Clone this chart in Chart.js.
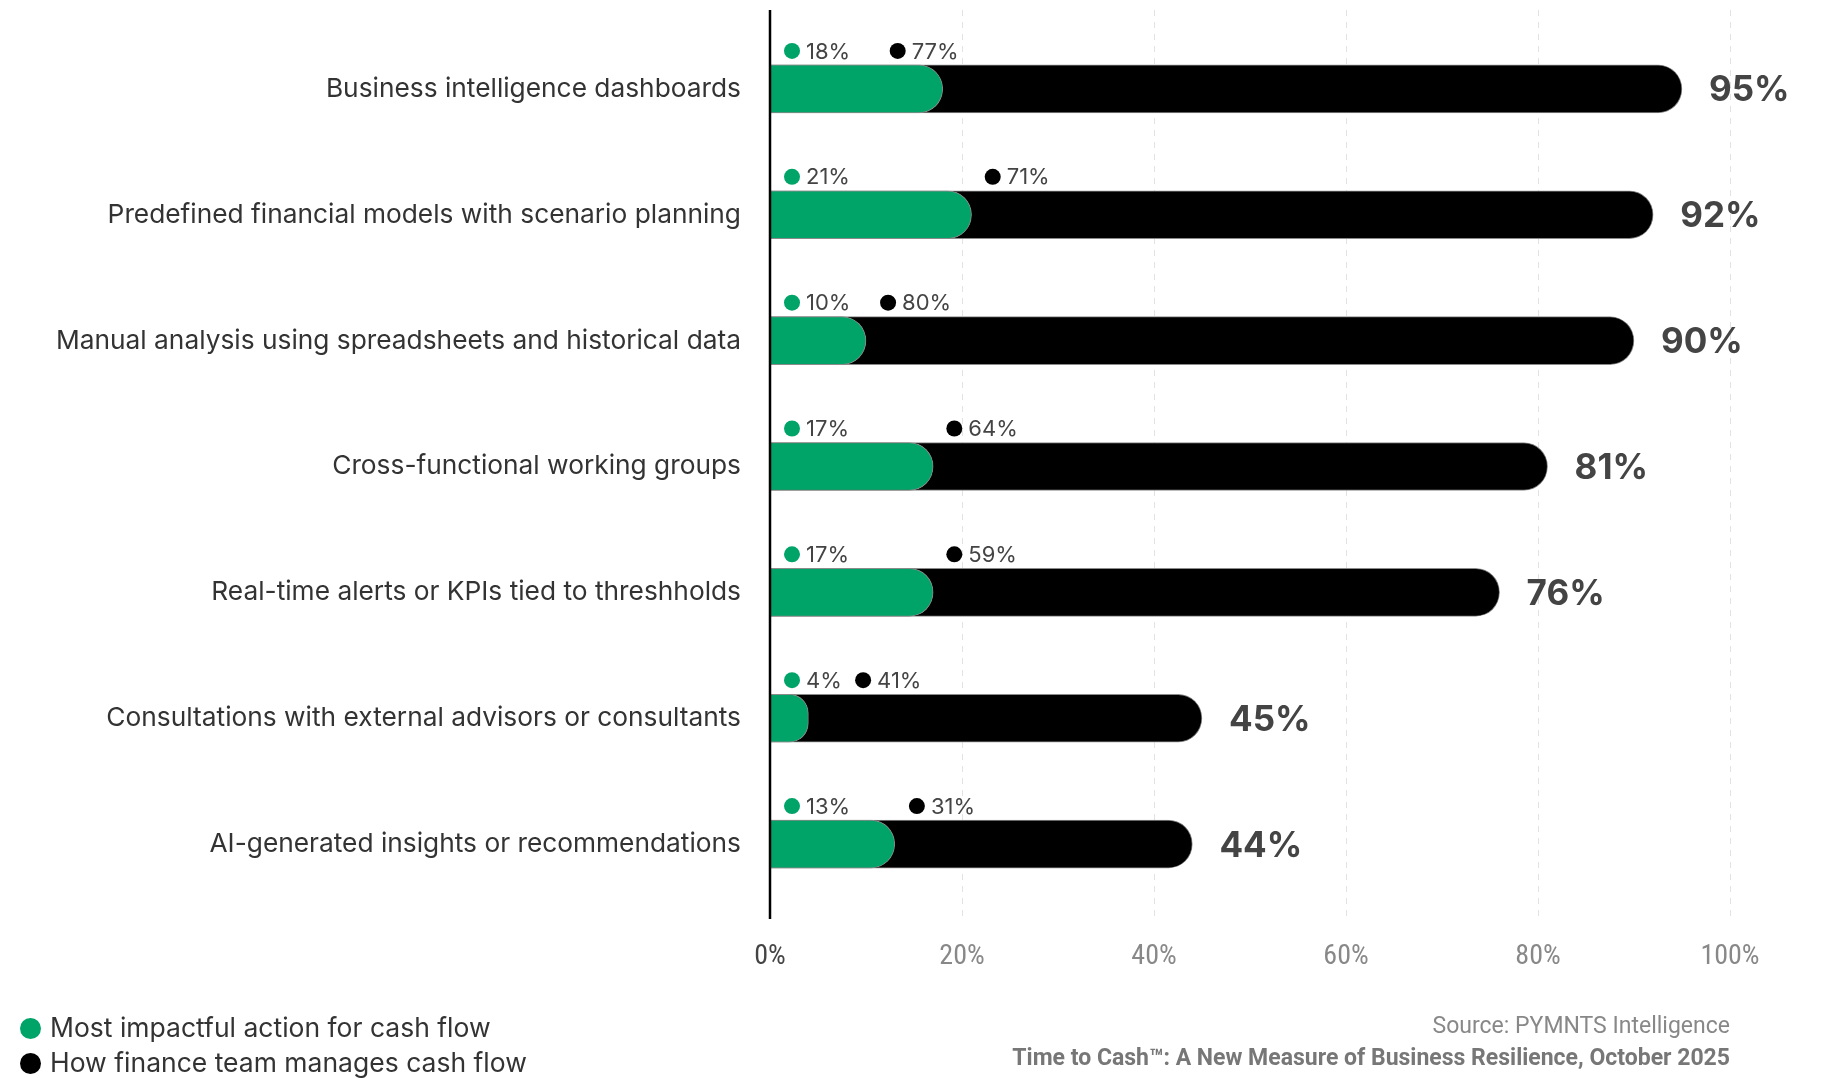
<!DOCTYPE html>
<html>
<head>
<meta charset="utf-8">
<script src="https://cdn.jsdelivr.net/npm/chart.js@4.4.1/dist/chart.umd.min.js"></script>
<style>
  html, body { margin: 0; padding: 0; background: #fff; }
  #wrap { position: relative; width: 1822px; height: 1078px; }
  .legend { position: absolute; left: 20px; font-family: Inter, sans-serif; font-size: 26.5px; color: #333; }
  .legend span.dot { display: inline-block; width: 21px; height: 21px; border-radius: 50%; margin-right: 9px; vertical-align: -2px; }
  .foot { position: absolute; right: 92px; font-family: Roboto, sans-serif; font-size: 23px; color: #888; text-align: right; }
</style>
</head>
<body>
<div id="wrap">
  <canvas id="c" width="1822" height="1078"></canvas>
  <div class="legend" style="top:1011px"><span class="dot" style="background:#01a468"></span>Most impactful action for cash flow</div>
  <div class="legend" style="top:1046px"><span class="dot" style="background:#000"></span>How finance team manages cash flow</div>
  <div class="foot" style="top:1012px">Source: PYMNTS Intelligence</div>
  <div class="foot" style="top:1044px;font-weight:bold;color:#777">Time to Cash™: A New Measure of Business Resilience, October 2025</div>
</div>
<script>
var categories = [
  'Business intelligence dashboards',
  'Predefined financial models with scenario planning',
  'Manual analysis using spreadsheets and historical data',
  'Cross-functional working groups',
  'Real-time alerts or KPIs tied to threshholds',
  'Consultations with external advisors or consultants',
  'AI-generated insights or recommendations'
];
var impactful = [18, 21, 10, 17, 17, 4, 13];
var manages = [77, 71, 80, 64, 59, 41, 31];
// where the black label sits along the axis (in %)
var manageLabelAt = [13.3, 23.2, 12.3, 19.2, 19.2, 9.7, 15.3];
var xTicks = [0, 20, 40, 60, 80, 100];

var totals = impactful.map(function (v, i) { return v + manages[i]; });

var GREEN = '#01a468';
var BLACK = '#000000';

var extras = {
  id: 'extras',
  beforeDatasetsDraw: function (chart) {
    var ctx = chart.ctx;
    var x = chart.scales.x;
    ctx.save();
    ctx.strokeStyle = '#e2e2e2';
    ctx.lineWidth = 1;
    ctx.setLineDash([6, 6]);
    xTicks.forEach(function (t) {
      if (t === 0) return;
      var px = Math.round(x.getPixelForValue(t)) + 0.5;
      ctx.beginPath();
      ctx.moveTo(px, 10);
      ctx.lineTo(px, 919);
      ctx.stroke();
    });
    ctx.restore();
  },
  afterDatasetsDraw: function (chart) {
    var ctx = chart.ctx;
    var x = chart.scales.x;
    var x0 = x.getPixelForValue(0);
    var meta = chart.getDatasetMeta(1);
    ctx.save();
    // axis line
    ctx.strokeStyle = '#000';
    ctx.lineWidth = 2.5;
    ctx.beginPath();
    ctx.moveTo(x0, 10);
    ctx.lineTo(x0, 919);
    ctx.stroke();

    meta.data.forEach(function (bar, i) {
      var ly = bar.y - 24 - 14;
      ctx.font = '22px Inter, sans-serif';
      ctx.textBaseline = 'middle';
      ctx.textAlign = 'left';
      // green label
      var gx = x0 + 22;
      ctx.fillStyle = GREEN;
      ctx.beginPath(); ctx.arc(gx, ly, 8, 0, Math.PI * 2); ctx.fill();
      ctx.fillStyle = '#444';
      ctx.fillText(impactful[i] + '%', gx + 14, ly + 1);
      // black label
      var bx = x.getPixelForValue(manageLabelAt[i]);
      ctx.fillStyle = BLACK;
      ctx.beginPath(); ctx.arc(bx, ly, 8, 0, Math.PI * 2); ctx.fill();
      ctx.fillStyle = '#444';
      ctx.fillText(manages[i] + '%', bx + 14, ly + 1);
      // total
      ctx.font = 'bold 35px Inter, sans-serif';
      ctx.fillStyle = '#444';
      ctx.fillText(totals[i] + '%', x.getPixelForValue(totals[i]) + 27, bar.y + 2);
    });
    ctx.restore();
  }
};

new Chart(document.getElementById('c'), {
  type: 'bar',
  data: {
    labels: categories,
    datasets: [
      {
        label: 'Most impactful action for cash flow',
        data: impactful,
        backgroundColor: GREEN,
        borderColor: '#8a8a8a',
        borderWidth: 1,
        borderSkipped: 'start',
        borderRadius: 24,
        barThickness: 48,
        grouped: false,
        order: 0
      },
      {
        label: 'How finance team manages cash flow',
        data: totals,
        backgroundColor: BLACK,
        borderColor: '#8a8a8a',
        borderWidth: 1,
        borderSkipped: 'start',
        borderRadius: 24,
        barThickness: 48,
        grouped: false,
        order: 1
      }
    ]
  },
  options: {
    indexAxis: 'y',
    responsive: false,
    animation: false,
    layout: { padding: { top: 26, right: 92, left: 0, bottom: 0 } },
    plugins: { legend: { display: false }, tooltip: { enabled: false } },
    scales: {
      x: {
        min: 0, max: 100,
        afterFit: function (s) { s.height = 171; },
        afterBuildTicks: function (s) { s.ticks = xTicks.map(function (v) { return { value: v }; }); },
        grid: { display: false, drawTicks: false },
        border: { display: false },
        ticks: {
          padding: 33,
          font: { family: '"Liberation Sans Narrow", "Roboto Condensed", Roboto, sans-serif', size: 28 },
          color: function (c) { return c.tick && c.tick.value === 0 ? '#444' : '#888'; },
          callback: function (v) { return v + '%'; }
        }
      },
      y: {
        afterFit: function (s) { s.width = 770; s.paddingTop = 0; s.paddingBottom = 0; },
        grid: { display: false, drawTicks: false },
        border: { display: false },
        ticks: {
          padding: 29,
          font: { family: 'Inter, sans-serif', size: 26.3 },
          color: '#333'
        }
      }
    }
  },
  plugins: [extras]
});
</script>
</body>
</html>
